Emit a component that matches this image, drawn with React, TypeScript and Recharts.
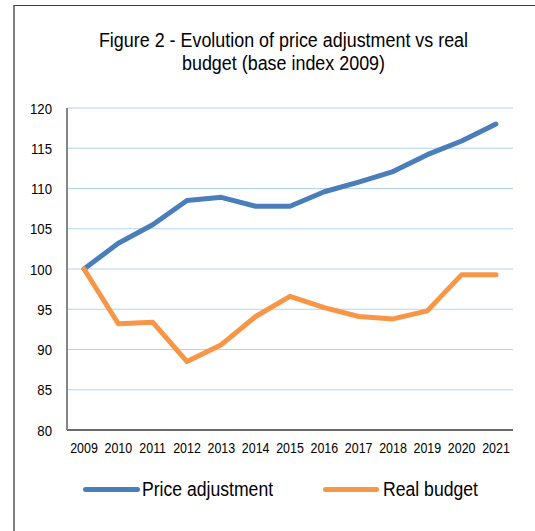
import React from "react";
import { LineChart, Line, XAxis, YAxis, CartesianGrid } from "recharts";

const years = ["2009", "2010", "2011", "2012", "2013", "2014", "2015", "2016", "2017", "2018", "2019", "2020", "2021"];
const priceAdjustment = [100, 103.2, 105.5, 108.5, 108.9, 107.8, 107.8, 109.6, 110.8, 112.1, 114.2, 115.9, 118.0];
const realBudget = [100, 93.2, 93.4, 88.5, 90.6, 94.1, 96.6, 95.2, 94.1, 93.8, 94.8, 99.3, 99.3];
const yTicks = [80, 85, 90, 95, 100, 105, 110, 115, 120];
const titleLines = ["Figure 2 - Evolution of price adjustment vs real", "budget (base index 2009)"];
const seriesNames = ["Price adjustment", "Real budget"];

const data = years.map((y, i) => ({ year: y, price: priceAdjustment[i], real: realBudget[i] }));

const FONT = '"Liberation Sans", Arial, sans-serif';
const BLUE = "#4A7EBB";
const ORANGE = "#F79646";

const XTick = (props: any) => {
  const { x, y, payload } = props;
  return (
    <g transform={`translate(${x},${y}) scale(0.83,1)`}>
      <text x={0} y={0} dy="0.71em" textAnchor="middle" fontFamily={FONT} fontSize={15} fill="#000">
        {payload.value}
      </text>
    </g>
  );
};

const YTick = (props: any) => {
  const { x, y, payload } = props;
  return (
    <g transform={`translate(${x},${y}) scale(0.85,1)`}>
      <text x={0} y={0} dy="0.355em" textAnchor="end" fontFamily={FONT} fontSize={15.5} fill="#000">
        {payload.value}
      </text>
    </g>
  );
};

const textStyle: React.CSSProperties = {
  fontFamily: FONT,
  fontSize: 20,
  color: "#000",
  whiteSpace: "nowrap",
  transformOrigin: "left center",
  transform: "scaleX(0.88)",
};

export default function App() {
  return (
    <div style={{ position: "absolute", left: 0, top: 0, width: 535, height: 531, background: "#fff", overflow: "hidden" }}>
      <div style={{ position: "absolute", left: 13, top: 5, width: 530, height: 540, borderLeft: "2px solid #7f7f7f", borderTop: "1.5px solid #3f3f3f" }} />
      <div style={{ position: "absolute", left: 0, top: 29, width: 567, textAlign: "center", fontFamily: FONT, fontSize: 20, lineHeight: "23px", color: "#000" }}>
        {titleLines.map((t) => (
          <div key={t} style={{ transform: "scaleX(0.895)", whiteSpace: "nowrap" }}>{t}</div>
        ))}
      </div>
      <div style={{ position: "absolute", left: 0, top: 0 }}>
        <LineChart width={535} height={531} data={data} margin={{ top: 108, right: 22, bottom: 71, left: 17 }}>
          <CartesianGrid horizontal={true} vertical={false} stroke="#B3D3F2" strokeWidth={1.2} />
          <XAxis
            dataKey="year"
            axisLine={{ stroke: "#404040", strokeWidth: 1.5 }}
            tickLine={false}
            tickSize={0}
            tickMargin={12}
            interval={0}
            height={30}
            padding={{ left: 17, right: 17 }}
            tick={<XTick />}
          />
          <YAxis
            domain={[80, 120]}
            ticks={yTicks}
            width={50}
            axisLine={{ stroke: "#868686", strokeWidth: 2 }}
            tickLine={false}
            tickSize={0}
            tickMargin={15}
            tick={<YTick />}
          />
          <Line type="linear" dataKey="price" name={seriesNames[0]} stroke={BLUE} strokeWidth={5} dot={false} isAnimationActive={false} strokeLinecap="round" strokeLinejoin="round" />
          <Line type="linear" dataKey="real" name={seriesNames[1]} stroke={ORANGE} strokeWidth={5} dot={false} isAnimationActive={false} strokeLinecap="round" strokeLinejoin="round" />
        </LineChart>
      </div>
      <div style={{ position: "absolute", left: 0, top: 475, width: 535, height: 30 }}>
        <div style={{ position: "absolute", left: 83, top: 12, width: 57, height: 5, borderRadius: 3, background: BLUE }} />
        <div style={{ ...textStyle, position: "absolute", left: 142, top: 0, lineHeight: "28px" }}>{seriesNames[0]}</div>
        <div style={{ position: "absolute", left: 323, top: 12, width: 56, height: 5, borderRadius: 3, background: ORANGE }} />
        <div style={{ ...textStyle, position: "absolute", left: 383, top: 0, lineHeight: "28px" }}>{seriesNames[1]}</div>
      </div>
    </div>
  );
}
